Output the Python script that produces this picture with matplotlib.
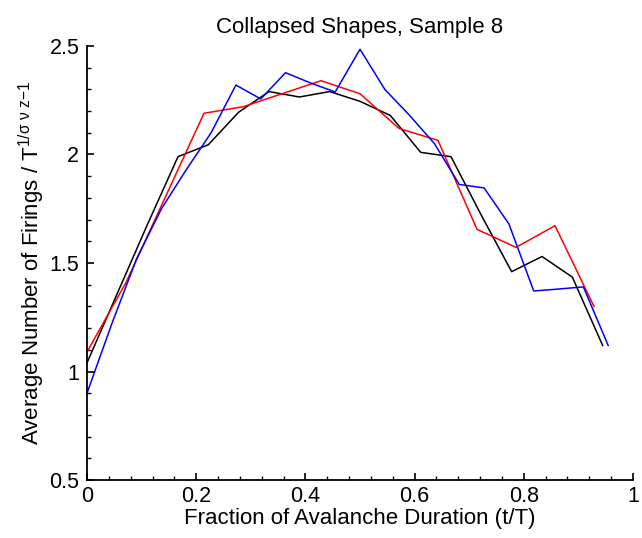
import numpy as np
import matplotlib
matplotlib.use("Agg")
import matplotlib.pyplot as plt
from matplotlib.ticker import MultipleLocator

plt.rcParams['font.family'] = ['Liberation Sans', 'DejaVu Sans']
plt.rcParams['mathtext.fontset'] = 'custom'
plt.rcParams['mathtext.rm'] = 'Liberation Sans'
plt.rcParams['mathtext.it'] = 'Liberation Sans'
plt.rcParams['mathtext.sf'] = 'Liberation Sans'

# Collapsed avalanche shapes: each curve sampled at t/T = i/T for its own duration T
black_vals = [1.04, 1.36, 1.68, 1.99, 2.045, 2.195, 2.29, 2.265, 2.29, 2.245,
              2.18, 2.01, 1.99, 1.72, 1.46, 1.53, 1.435, 1.12]
red_vals = [1.09, 1.41, 1.80, 2.19, 2.22, 2.28, 2.34, 2.28, 2.12, 2.065,
            1.655, 1.572, 1.672, 1.30]
blue_vals = [0.90, 1.22, 1.52, 1.75, 1.93, 2.10, 2.32, 2.256, 2.377, 2.33,
             2.288, 2.485, 2.30, 2.18, 2.05, 1.862, 1.846, 1.68, 1.371, 1.38,
             1.39, 1.12]
black_T = 18
red_T = 14
blue_T = 22

black_t = np.arange(len(black_vals)) / black_T
red_t = np.arange(len(red_vals)) / red_T
blue_t = np.arange(len(blue_vals)) / blue_T

fig = plt.figure(figsize=(6.42, 5.38), dpi=100)
ax = fig.add_axes([87 / 642, 58 / 538, 546 / 642, 434 / 538])

ax.plot(black_t, black_vals, color='black', lw=1.1)
ax.plot(red_t, red_vals, color='red', lw=1.1)
ax.plot(blue_t, blue_vals, color='blue', lw=1.1)

ax.set_xlim(0, 1)
ax.set_ylim(0.5, 2.5)
ax.xaxis.set_minor_locator(MultipleLocator(0.04))
ax.yaxis.set_minor_locator(MultipleLocator(0.1))
ax.set_xticks([0, 0.2, 0.4, 0.6, 0.8, 1.0])
ax.set_xticklabels(['0', '0.2', '0.4', '0.6', '0.8', '1'])
ax.set_yticks([0.5, 1, 1.5, 2, 2.5])
ax.set_yticklabels(['0.5', '1', '1.5', '2', '2.5'])

for s in ['top', 'right']:
    ax.spines[s].set_visible(False)
for s in ['left', 'bottom']:
    ax.spines[s].set_linewidth(1.3)

ax.tick_params(which='major', direction='in', length=5, width=1.2,
               labelsize=15.5)
ax.tick_params(axis='x', which='major', pad=4)
ax.tick_params(axis='y', which='major', pad=5.5)
ax.tick_params(which='minor', direction='in', length=2.8, width=1.0)

ax.set_title('Collapsed Shapes, Sample 8', fontsize=16, pad=9)
ax.set_xlabel('Fraction of Avalanche Duration (t/T)', fontsize=16, labelpad=1)
ax.set_ylabel(r'Average Number of Firings / T$^{\mathregular{1/\sigma\ \nu\ z{-}1}}$',
              fontsize=16, labelpad=2)

fig.savefig('out.png', dpi=100)
